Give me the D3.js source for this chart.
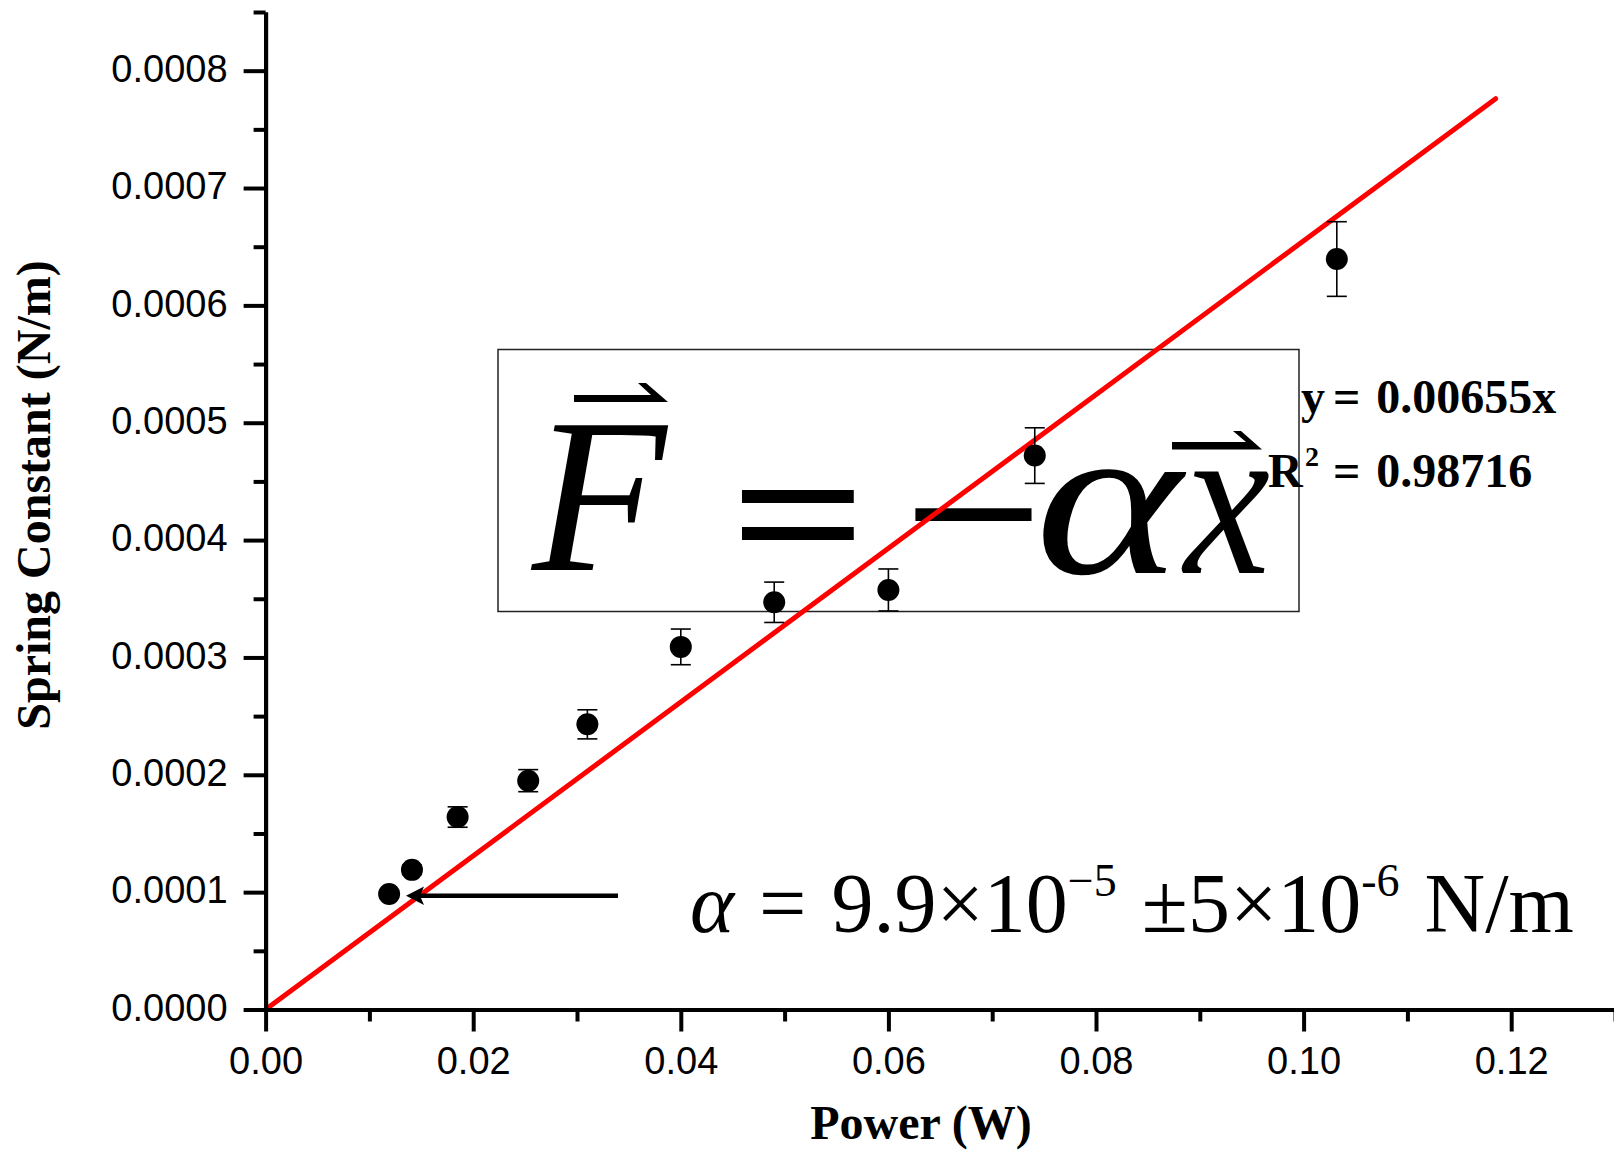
<!DOCTYPE html>
<html>
<head>
<meta charset="utf-8">
<script src="https://cdn.jsdelivr.net/npm/d3@7"></script>
<style>
  body { margin: 0; background: #fff; }
  svg { display: block; }
</style>
</head>
<body>
<div id="chart"></div>
<script>

// measured points: power (W) vs spring constant (N/m)
var power = [0.0119, 0.0141, 0.0185, 0.0253, 0.0310, 0.0400, 0.0490, 0.0600, 0.0741, 0.1032];
var springK = [0.0000985, 0.000119, 0.000164, 0.000195, 0.000243, 0.000309, 0.000347, 0.0003575, 0.000472, 0.0006395];
var springErr = [0.000003, 0.000004, 0.0000087, 0.0000094, 0.0000124, 0.0000152, 0.0000172, 0.0000179, 0.0000237, 0.0000318];

// linear fit through origin
var fitSlope = 0.00655;
var fitX = [0, 0.1185];
var fitText = '= 0.00655x';
var r2Text = '= 0.98716';

var xTickVals = [0, 0.02, 0.04, 0.06, 0.08, 0.10, 0.12];
var xMinorVals = [0.01, 0.03, 0.05, 0.07, 0.09, 0.11, 0.13];
var yTickVals = [0, 0.0001, 0.0002, 0.0003, 0.0004, 0.0005, 0.0006, 0.0007, 0.0008];
var yMinorVals = [0.00005, 0.00015, 0.00025, 0.00035, 0.00045, 0.00055, 0.00065, 0.00075, 0.00085];

var width = 1614;
var height = 1150;
var leftMargin = 265.6;
var axisBottom = 1009.5;
var axisTop = 12;

var sans = '"Liberation Sans", Arial, sans-serif';
var serif = '"Liberation Serif", "Times New Roman", serif';

var svg = d3.select('#chart')
    .append('svg')
        .attr('width', width)
        .attr('height', height)
        .style('background', '#fff');

var x = d3.scaleLinear()
    .domain([0, 0.13])
    .range([leftMargin, leftMargin + 0.13 * 10380]);

var y = d3.scaleLinear()
    .domain([0, 0.00085])
    .range([axisBottom, axisTop]);

/** formula box (drawn below data) */
var note = svg.append('g');

note.append('rect')
    .attr('x', 498).attr('y', 349.5)
    .attr('width', 801).attr('height', 262)
    .attr('fill', 'none')
    .attr('stroke', '#222')
    .attr('stroke-width', 1.5);

function bigText(txt, px, py, size, italic, bold, sx) {
    note.append('text')
        .attr('transform', 'translate(' + px + ',' + py + ') scale(' + sx + ',1)')
        .attr('font-family', serif)
        .attr('font-size', size)
        .attr('font-style', italic ? 'italic' : 'normal')
        .attr('font-weight', bold ? 'bold' : 'normal')
        .text(txt);
}
bigText('F', 532, 570, 220, true, false, 1);
bigText('=', 730, 576, 185, false, true, 1.3);
bigText('\u2212', 902, 576, 185, false, true, 1.35);
bigText('\u03b1', 1035, 573, 220, true, false, 1.27);
bigText('x', 1184, 573, 220, true, false, 0.88);

// vector harpoons
note.append('path')
    .attr('d', 'M574,395 L651,395 L638,383 L646,383 L668,402 L574,402 Z')
    .attr('fill', '#000');
note.append('path')
    .attr('d', 'M1172,442 L1246,442 L1233,431 L1241,431 L1262,449.5 L1172,449.5 Z')
    .attr('fill', '#000');

// fit equation
var eq = svg.append('g')
    .attr('font-family', serif)
    .attr('font-weight', 'bold')
    .attr('font-size', 48);
eq.append('text').attr('x', 1301).attr('y', 413).text('y');
eq.append('text').attr('x', 1333).attr('y', 413).attr('word-spacing', 4).text(fitText);
eq.append('text').attr('x', 1268).attr('y', 487).text('R');
eq.append('text').attr('x', 1305).attr('y', 466).attr('font-size', 28).text('2');
eq.append('text').attr('x', 1333).attr('y', 487).attr('word-spacing', 4).text(r2Text);

/** fit line */
svg.append('path')
    .datum(fitX)
        .attr('fill', 'none')
        .attr('stroke', '#ff0000')
        .attr('stroke-width', 5)
        .attr('stroke-linecap', 'round')
        .attr('d', d3.line()
            .x(function(d) { return x(d); })
            .y(function(d) { return y(d * fitSlope); })
        );

/** error bars + points */
var pts = power.map(function(p, i) {
    return { x: p, y: springK[i], e: springErr[i] };
});

var bars = svg.append('g')
    .attr('stroke', '#000')
    .attr('stroke-width', 1.6);

bars.selectAll('line.v')
    .data(pts)
    .enter().append('line')
        .attr('x1', function(d) { return x(d.x); })
        .attr('x2', function(d) { return x(d.x); })
        .attr('y1', function(d) { return y(d.y - d.e); })
        .attr('y2', function(d) { return y(d.y + d.e); });

[-1, 1].forEach(function(s) {
    bars.selectAll('line.c' + s)
        .data(pts)
        .enter().append('line')
            .attr('x1', function(d) { return x(d.x) - 10; })
            .attr('x2', function(d) { return x(d.x) + 10; })
            .attr('y1', function(d) { return y(d.y + s * d.e); })
            .attr('y2', function(d) { return y(d.y + s * d.e); });
});

svg.selectAll('circle.pt')
    .data(pts)
    .enter().append('circle')
        .attr('r', 11)
        .attr('cx', function(d) { return x(d.x); })
        .attr('cy', function(d) { return y(d.y); })
        .attr('fill', '#000');

/** arrow pointing at the first point */
svg.append('line')
    .attr('x1', 618).attr('y1', 895.8)
    .attr('x2', 420).attr('y2', 895.8)
    .attr('stroke', '#000')
    .attr('stroke-width', 4.5);
svg.append('path')
    .attr('d', 'M406,895.8 L424,886.5 L420,895.8 L424,905 Z')
    .attr('fill', '#000');

// alpha value
var al = svg.append('text')
    .attr('x', 690).attr('y', 932)
    .attr('font-family', serif)
    .attr('font-size', 84)
    .attr('word-spacing', 4);
al.append('tspan').attr('font-style', 'italic').text('\u03b1');
al.append('tspan').text(' = 9.9\u00d710');
al.append('tspan').attr('font-size', 46).attr('dy', -36).text('\u22125');
al.append('tspan').attr('dy', 36).text(' \u00b15\u00d710');
al.append('tspan').attr('font-size', 46).attr('dy', -36).text('-6');
al.append('tspan').attr('dy', 36).text(' N/m');

/** axes */
function styleAxis(g, dy) {
    g.selectAll('path.domain').attr('stroke', '#000').attr('stroke-width', 4);
    g.selectAll('.tick line').attr('stroke', '#000').attr('stroke-width', 4);
    g.selectAll('.tick text')
        .attr('fill', '#000')
        .attr('font-family', sans)
        .attr('font-size', 38)
        .attr('dy', dy);
}

var yMinor = d3.axisLeft(y).tickValues(yMinorVals).tickSize(12).tickSizeOuter(0).tickFormat('');
var yAxis = d3.axisLeft(y).tickValues(yTickVals).tickSize(22).tickSizeOuter(0)
    .tickPadding(16).tickFormat(d3.format('.4f'));
var xMinor = d3.axisBottom(x).tickValues(xMinorVals).tickSize(12).tickSizeOuter(0).tickFormat('');
var xAxis = d3.axisBottom(x).tickValues(xTickVals).tickSize(22).tickSizeOuter(0)
    .tickPadding(16).tickFormat(d3.format('.2f'));

svg.append('g').attr('transform', 'translate(' + leftMargin + ',0)').call(yMinor).call(styleAxis, '0.28em');
svg.append('g').attr('transform', 'translate(' + leftMargin + ',0)').call(yAxis).call(styleAxis, '0.28em');
svg.append('g').attr('transform', 'translate(0,' + axisBottom + ')').call(xMinor).call(styleAxis, '0.71em');
svg.append('g').attr('transform', 'translate(0,' + axisBottom + ')').call(xAxis).call(styleAxis, '0.71em');

/** axis titles */
svg.append('text')
    .attr('x', 921).attr('y', 1139)
    .attr('text-anchor', 'middle')
    .attr('font-family', serif)
    .attr('font-weight', 'bold')
    .attr('font-size', 48)
    .text('Power (W)');

svg.append('text')
    .attr('transform', 'translate(50,495) rotate(-90)')
    .attr('text-anchor', 'middle')
    .attr('font-family', serif)
    .attr('font-weight', 'bold')
    .attr('font-size', 48)
    .text('Spring Constant (N/m)');

</script>
</body>
</html>
